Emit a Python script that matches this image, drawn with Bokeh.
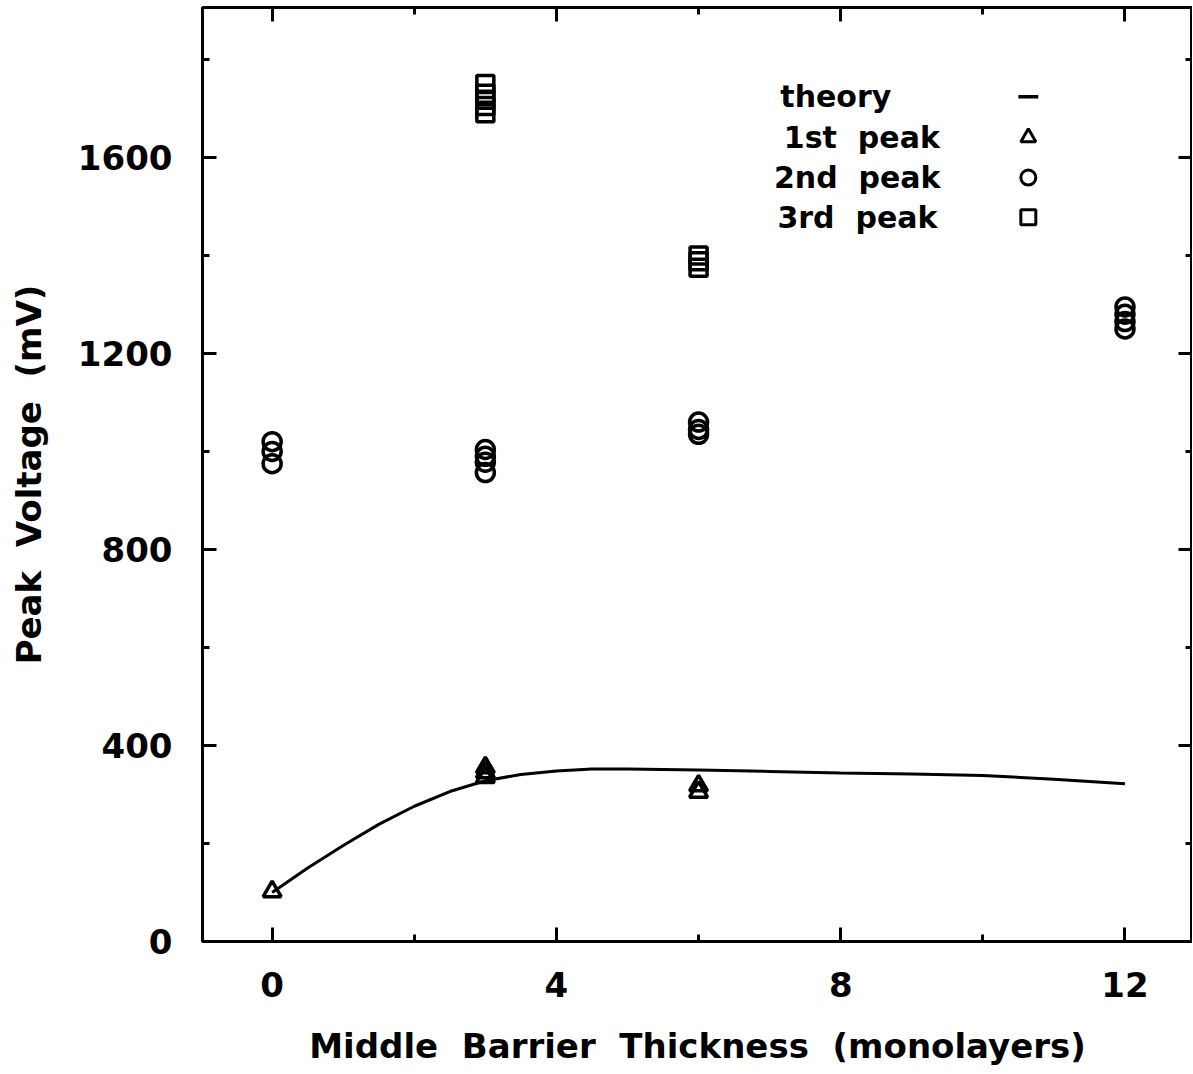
from bokeh.plotting import figure
from bokeh.models import Range1d, LinearAxis, SingleIntervalTicker, CustomJSTickFormatter
from bokeh.core.properties import value
from bokeh.embed import file_html
from bokeh.resources import INLINE

# ---- data ----
theory_x = [0, 0.5, 1, 1.5, 2, 2.5, 3, 3.5, 4, 4.5, 5, 5.5, 6, 7, 8, 9, 10, 11, 12]
theory_y = [100, 150, 196, 239, 276, 306, 328, 341, 348, 352, 352, 351, 350, 347, 344, 342, 339, 331, 322]

peak1_x = [0, 3, 3, 3, 6, 6]
peak1_y = [102, 355, 345, 335, 318, 305]

peak2_x = [0, 0, 0, 3, 3, 3, 3, 6, 6, 6, 12, 12, 12, 12]
peak2_y = [1020, 1000, 975, 1004, 990, 978, 957, 1060, 1045, 1035, 1295, 1280, 1265, 1250]

peak3_x = [3, 3, 3, 3, 3, 6, 6, 6]
peak3_y = [1750, 1730, 1718, 1705, 1690, 1400, 1388, 1375]

NB = "\u00a0"
GAP = NB * 2
legend_labels = ["theory", "1st" + GAP + "peak", "2nd" + GAP + "peak", "3rd" + GAP + "peak"]
x_label = GAP.join(["Middle", "Barrier", "Thickness", "(monolayers)"])
y_label = GAP.join(["Peak", "Voltage", "(mV)"])
x_ticks_interval = 4
y_ticks_interval = 400

FONT = "DejaVu Sans"

p = figure(frame_width=990, frame_height=934,
           x_range=Range1d(-0.98, 12.95), y_range=Range1d(0, 1906),
           output_backend="svg", toolbar_location=None,
           min_border_left=202, min_border_right=0, min_border_top=7, min_border_bottom=133,
           x_axis_location=None, y_axis_location=None)
p.background_fill_color = "white"
p.border_fill_color = "white"
p.grid.visible = False
p.outline_line_color = "black"
p.outline_line_width = 3


def make_axis(kind, loc, labelled):
    ax = LinearAxis()
    if kind == "x":
        ax.ticker = SingleIntervalTicker(interval=x_ticks_interval, num_minor_ticks=2)
    else:
        ax.ticker = SingleIntervalTicker(interval=y_ticks_interval, num_minor_ticks=2)
    ax.axis_line_color = "black"
    ax.axis_line_width = 3
    ax.major_tick_in = 14
    ax.major_tick_out = 0
    ax.minor_tick_in = 7
    ax.minor_tick_out = 0
    ax.major_tick_line_width = 3
    ax.minor_tick_line_width = 3
    ax.major_tick_line_color = "black"
    ax.minor_tick_line_color = "black"
    if labelled:
        ax.major_label_text_font = FONT
        ax.major_label_text_font_style = "bold"
        ax.major_label_text_font_size = "34px"
        ax.major_label_text_color = "black"
        ax.major_label_standoff = 30
        ax.axis_label_text_font = FONT
        ax.axis_label_text_font_style = "bold"
        ax.axis_label_text_font_size = "34px"
        ax.axis_label_text_color = "black"
        ax.axis_label_standoff = 26
    else:
        ax.formatter = CustomJSTickFormatter(code="return ''")
        ax.major_label_standoff = 0
        ax.axis_line_alpha = 0
    p.add_layout(ax, loc)
    return ax


bx = make_axis("x", "below", True)
bx.axis_label = x_label
ly = make_axis("y", "left", True)
ly.axis_label = y_label
ly.major_label_orientation = "horizontal"
make_axis("x", "above", False)
make_axis("y", "right", False)

p.line(theory_x, theory_y, line_color="black", line_width=3)
p.scatter(peak1_x, peak1_y, marker="triangle", size=18, fill_color=None,
          line_color="black", line_width=3.5)
p.scatter(peak2_x, peak2_y, marker="circle", size=18, fill_color=None,
          line_color="black", line_width=3.5)
p.scatter(peak3_x, peak3_y, marker="square", size=17, fill_color=None,
          line_color="black", line_width=3.5)

# legend (symbols on the right of the labels)
leg_y = [1724, 1641, 1559, 1478]
leg_text_x = [7.15, 7.2, 7.06, 7.11]
p.text(leg_text_x, leg_y, text=legend_labels, text_font=value(FONT),
       text_font_style="bold", text_font_size="30px", text_baseline="middle",
       text_align="left", text_color="black")
p.segment(x0=[10.5], y0=[leg_y[0]], x1=[10.78], y1=[leg_y[0]], line_color="black", line_width=3.5)
p.scatter([10.64], [leg_y[1]], marker="triangle", size=15, fill_color=None, line_color="black", line_width=3)
p.scatter([10.64], [leg_y[2]], marker="circle", size=15, fill_color=None, line_color="black", line_width=3)
p.scatter([10.64], [leg_y[3]], marker="square", size=15, fill_color=None, line_color="black", line_width=3)

open("out.html", "w").write(file_html(p, INLINE))
